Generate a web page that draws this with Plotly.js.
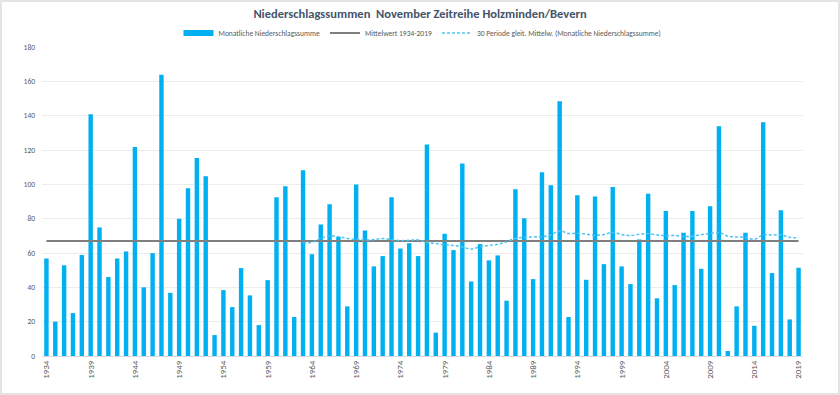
<!DOCTYPE html>
<html>
<head>
<meta charset="utf-8">
<script src="https://cdn.plot.ly/plotly-3.0.1.min.js"></script>
<style>
html,body{margin:0;padding:0;background:#fff;}
#chart{width:836px;height:391px;border:2px solid #e4e4e4;}
</style>
</head>
<body>
<div id="chart"></div>
<script>
const years = [];
for (let y = 1934; y <= 2019; y++) years.push(y);

const precipitation = [
  56.8, 20.0, 52.8, 25.0, 58.8, 140.8, 74.9, 46.0, 56.8, 60.9,
  121.8, 40.0, 59.9, 163.9, 36.8, 79.9, 97.7, 115.4, 104.7, 12.2,
  38.4, 28.5, 51.2, 35.3, 18.0, 44.2, 92.5, 98.9, 22.7, 108.2,
  59.3, 76.6, 88.4, 69.4, 28.9, 99.9, 73.1, 52.2, 58.2, 92.5,
  62.6, 65.7, 58.2, 123.2, 13.6, 71.2, 61.7, 112.1, 43.4, 65.2,
  55.7, 58.6, 32.2, 97.2, 80.3, 44.8, 107.0, 99.5, 148.4, 22.7,
  93.7, 44.4, 92.9, 53.5, 98.5, 52.2, 41.9, 67.9, 94.5, 33.6,
  84.4, 41.3, 71.8, 84.4, 50.8, 87.3, 133.8, 2.9, 28.9, 71.8,
  17.6, 136.1, 48.3, 84.9, 21.3, 51.4
];

const meanValue = 67.0;

const maYears = [];
for (let y = 1963; y <= 2019; y++) maYears.push(y);
const movingAvg = [
  65.6, 66.2, 68.5, 70.0, 69.5, 68.5, 68.0,
  67.6, 67.8, 68.4, 67.8, 67.2, 67.4, 67.6, 66.2, 65.5, 64.8,
  64.4, 63.5, 62.3, 63.6, 64.5, 65.1, 66.5, 68.5, 69.1, 69.4,
  69.5, 70.5, 73.0, 71.3, 71.5, 71.0, 70.4, 70.8, 72.0, 70.8,
  70.1, 71.0, 71.3, 70.5, 70.1, 70.2, 69.6, 69.8, 70.7, 71.3,
  72.0, 69.8, 69.3, 69.2, 68.0, 70.5, 70.5, 70.6, 69.1, 68.8
];

const tickYears = years.filter(y => (y - 1934) % 5 === 0);

const fontFam = "Carlito, 'Liberation Sans Narrow', 'Liberation Sans', Arial, sans-serif";
const barColor = '#00B0F0';

const traces = [
  {
    type: 'bar',
    x: years,
    y: precipitation,
    name: 'Monatliche Niederschlagssumme',
    marker: {color: barColor},
    showlegend: false,
    legendgroup: 'bars'
  },
  {
    /* legend-only swatch for the bars (wide rectangle as in the reference) */
    type: 'scatter',
    mode: 'lines',
    x: [null],
    y: [null],
    name: 'Monatliche Niederschlagssumme',
    line: {color: barColor, width: 6},
    legendgroup: 'bars',
    hoverinfo: 'skip'
  },
  {
    type: 'scatter',
    mode: 'lines',
    x: [years[0], years[years.length - 1]],
    y: [meanValue, meanValue],
    name: 'Mittelwert 1934-2019',
    line: {color: '#7f7f7f', width: 2}
  },
  {
    type: 'scatter',
    mode: 'lines',
    x: maYears,
    y: movingAvg,
    name: '30 Periode gleit. Mittelw. (Monatliche Niederschlagssumme)',
    line: {color: '#4fc3f2', width: 1.5, dash: '3px,2px', shape: 'spline'}
  }
];

const layout = {
  width: 836,
  height: 391,
  margin: {l: 40, r: 35, t: 45, b: 37},
  paper_bgcolor: '#ffffff',
  plot_bgcolor: '#ffffff',
  bargap: 0.5,
  font: {family: fontFam, color: '#595959'},
  title: {
    text: 'Niederschlagssummen  November Zeitreihe Holzminden/Bevern',
    font: {family: fontFam, size: 12.5, color: '#44546a', weight: 'bold'},
    x: 0.5,
    xanchor: 'center',
    y: 0.97,
    yanchor: 'middle'
  },
  showlegend: true,
  legend: {
    orientation: 'h',
    x: 0.5,
    xanchor: 'center',
    y: 1.045,
    yanchor: 'middle',
    font: {family: fontFam, size: 7.5, color: '#595959'},
    itemwidth: 30,
    tracegroupgap: 0
  },
  xaxis: {
    type: 'linear',
    range: [1933.5, 2019.5],
    tickmode: 'array',
    tickvals: tickYears,
    ticktext: tickYears.map(String),
    tickangle: -90,
    tickfont: {family: fontFam, size: 9, color: '#595959'},
    showgrid: false,
    zeroline: false,
    showline: true,
    linecolor: '#d9d9d9',
    linewidth: 1,
    ticks: ''
  },
  yaxis: {
    range: [0, 180],
    tickmode: 'array',
    tickvals: [0, 20, 40, 60, 80, 100, 120, 140, 160, 180],
    tickfont: {family: fontFam, size: 7.5, color: '#595959'},
    showgrid: true,
    gridcolor: '#ececec',
    gridwidth: 1,
    zeroline: false,
    showline: false,
    ticks: '',
    ticklabelstandoff: 6
  }
};

Plotly.newPlot('chart', traces, layout, {displayModeBar: false, staticPlot: true});
</script>
</body>
</html>
